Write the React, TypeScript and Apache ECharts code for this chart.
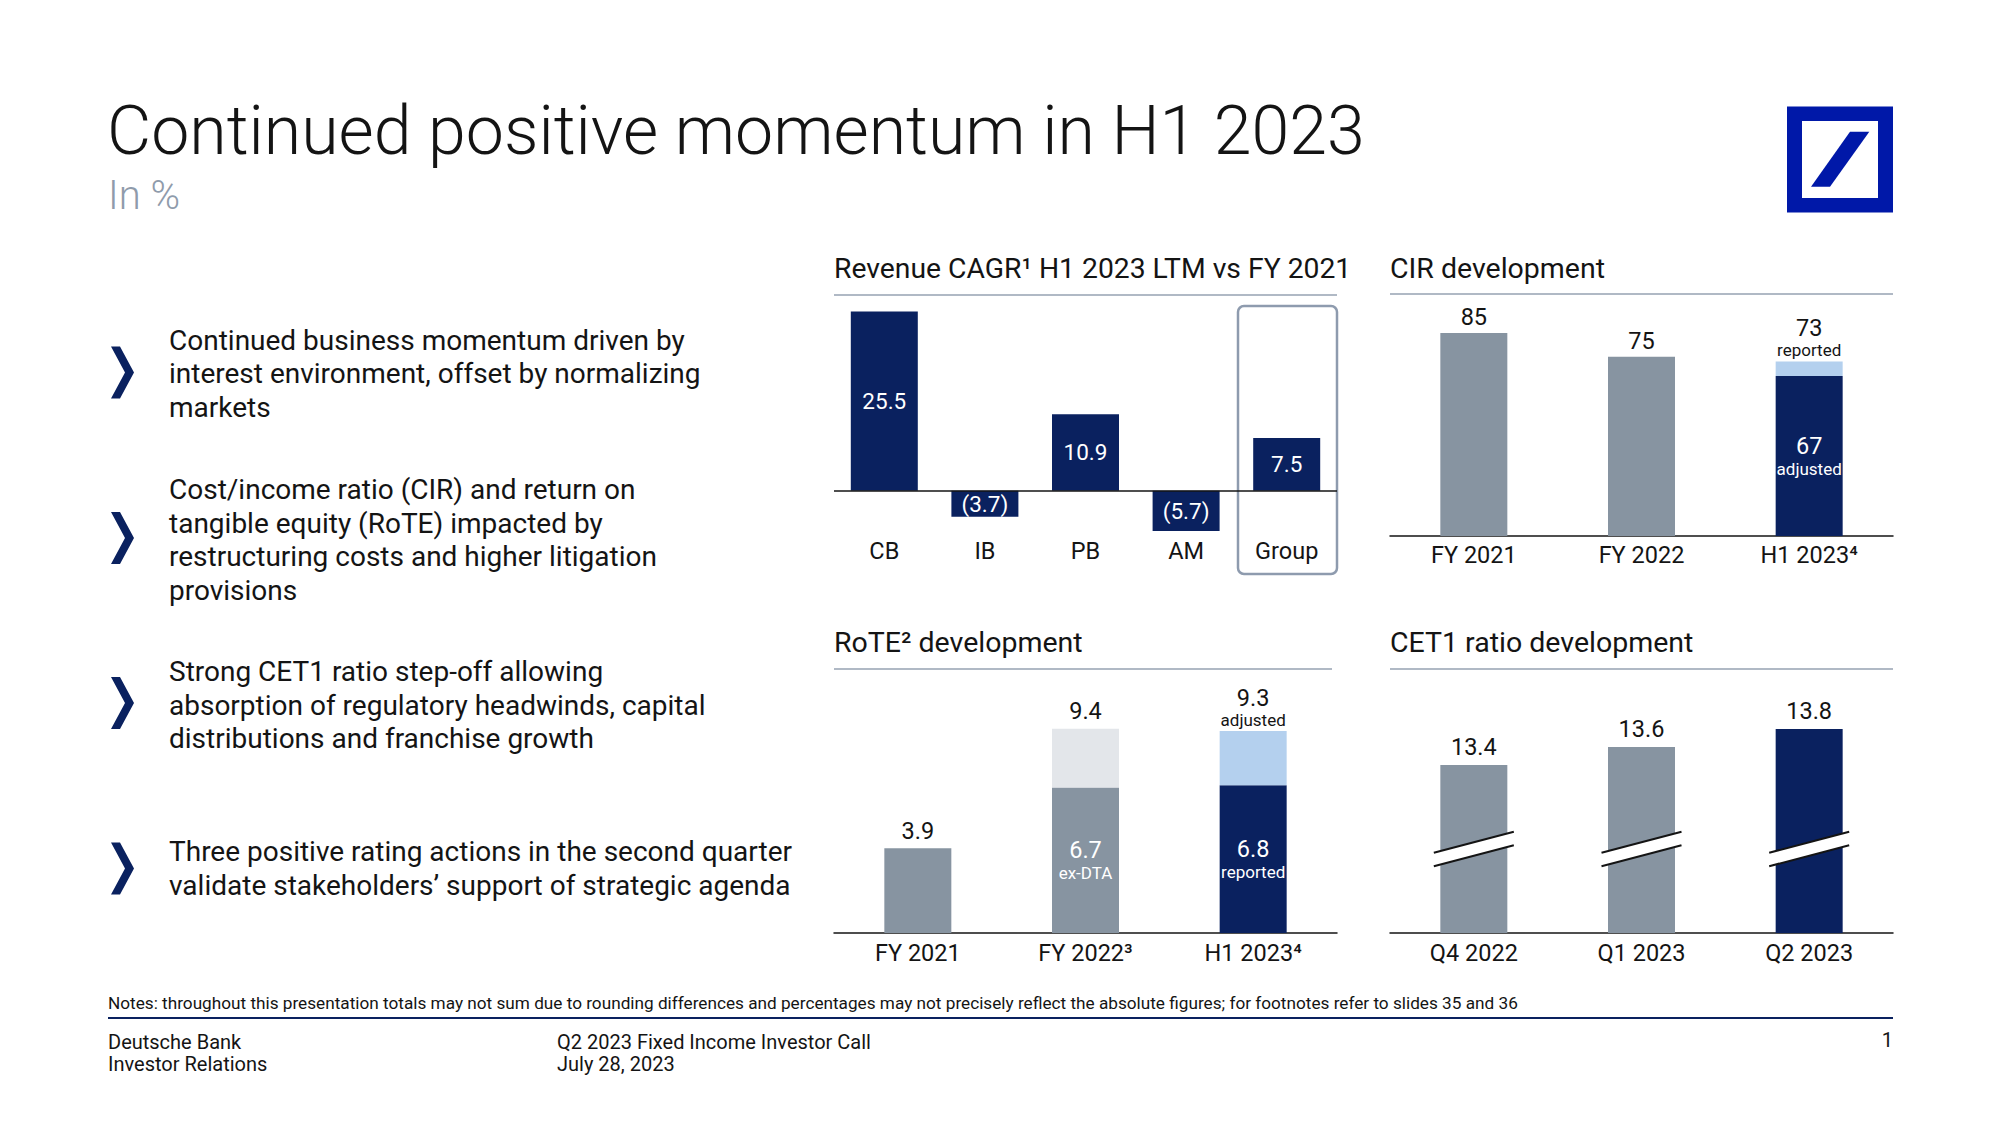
import React, { useEffect, useRef } from "react";
import * as echarts from "echarts";

// ---------- data ----------
const revCategories = ["CB", "IB", "PB", "AM", "Group"];
const revValues = [25.5, -3.7, 10.9, -5.7, 7.5];

const cirCategories = ["FY 2021", "FY 2022", "H1 2023⁴"];
const cirReported = [85, 75, 73];
const cirAdjusted: (number | null)[] = [null, null, 67];

const roteCategories = ["FY 2021", "FY 2022³", "H1 2023⁴"];
const roteTotal = [3.9, 9.4, 9.3];
const roteBase: (number | null)[] = [null, 6.7, 6.8];
const roteBaseNote = ["", "ex-DTA", "reported"];
const roteTotalNote = ["", "", "adjusted"];

const cet1Categories = ["Q4 2022", "Q1 2023", "Q2 2023"];
const cet1Values = [13.4, 13.6, 13.8];

const bulletTexts = [
  "Continued business momentum driven by\ninterest environment, offset by normalizing\nmarkets",
  "Cost/income ratio (CIR) and return on\ntangible equity (RoTE) impacted by\nrestructuring costs and higher litigation\nprovisions",
  "Strong CET1 ratio step-off allowing\nabsorption of regulatory headwinds, capital\ndistributions and franchise growth",
  "Three positive rating actions in the second quarter\nvalidate stakeholders’ support of strategic agenda",
];

// ---------- styles ----------
const NAVY = "#0A215F";
const GRAY = "#8794A1";
const LIGHT_GRAY = "#E3E6EA";
const LIGHT_BLUE = "#B4D0EE";
const RULE = "#96A2B2";
const INK = "#141414";
const LOGO = "#0018A8";
const FONT = "Roboto, 'Noto Sans', sans-serif";

const cirColors = [GRAY, GRAY, NAVY];
const roteBaseColors = [GRAY, GRAY, NAVY];
const roteTopColors = [LIGHT_GRAY, LIGHT_GRAY, LIGHT_BLUE];
const cet1Colors = [GRAY, GRAY, NAVY];

const CET1_MIN = 11.53;
const BAR_W = 67;

const richDark = {
  v: { fontSize: 23.5, lineHeight: 26, color: INK, fontFamily: FONT },
  s: { fontSize: 17, lineHeight: 18, color: INK, fontFamily: FONT },
};
const richLight = {
  v: { fontSize: 23.5, lineHeight: 26, color: "#fff", fontFamily: FONT },
  s: { fontSize: 17, lineHeight: 20, color: "#fff", fontFamily: FONT },
};

function txt(text: string, x: number, y: number, size: number, opts: any = {}) {
  return {
    type: "text",
    x,
    y,
    silent: true,
    style: {
      text,
      fill: opts.fill || INK,
      fontSize: size,
      fontFamily: FONT,
      fontWeight: opts.weight || "normal",
      lineHeight: opts.lineHeight,
      textAlign: opts.align || "left",
      textVerticalAlign: opts.valign || "middle",
      align: opts.align || "left",
      verticalAlign: opts.valign || "middle",
    },
  };
}

function rule(x1: number, x2: number, y: number, color = RULE, w = 1.5) {
  return {
    type: "line",
    silent: true,
    shape: { x1, y1: y, x2, y2: y },
    style: { stroke: color, lineWidth: w },
  };
}

function chevron(cy: number) {
  return {
    type: "polygon",
    silent: true,
    shape: {
      points: [
        [111, cy - 26],
        [120, cy - 26],
        [134, cy],
        [120, cy + 26],
        [111, cy + 26],
        [125, cy],
      ],
    },
    style: { fill: NAVY },
  };
}

function catAxis(gridIndex: number, data: string[], margin: number, showLine = true) {
  return {
    type: "category",
    gridIndex,
    data,
    position: "bottom",
    axisTick: { show: false },
    axisLine: { show: showLine, onZero: false, lineStyle: { color: INK, width: 1.5 } },
    axisLabel: { fontSize: 23.5, color: INK, fontFamily: FONT, margin },
    splitLine: { show: false },
  };
}

function valAxis(gridIndex: number, min: number, max: number) {
  return { type: "value", gridIndex, min, max, show: false, splitLine: { show: false } };
}

export default function App() {
  const ref = useRef<HTMLDivElement>(null);

  useEffect(() => {
    if (!ref.current) return;
    const chart = echarts.init(ref.current, undefined, { renderer: "svg" });

    const revSeries = {
      type: "bar",
      xAxisIndex: 0,
      yAxisIndex: 0,
      barWidth: BAR_W,
      data: revValues,
      itemStyle: { color: NAVY },
      label: {
        show: true,
        position: "inside",
        color: "#fff",
        fontSize: 22.5,
        fontFamily: FONT,
        formatter: (p: any) =>
          p.value < 0 ? `(${Math.abs(p.value).toFixed(1)})` : p.value.toFixed(1),
      },
      markLine: {
        silent: true,
        symbol: ["none", "none"],
        label: { show: false },
        lineStyle: { color: INK, width: 1.5, type: "solid" },
        data: [{ yAxis: 0 }],
      },
    };

    const cirBaseSeries = {
      type: "bar",
      xAxisIndex: 1,
      yAxisIndex: 1,
      stack: "cir",
      barWidth: BAR_W,
      data: cirReported.map((r, i) => {
        const adj = cirAdjusted[i];
        if (adj == null) {
          return {
            value: r,
            itemStyle: { color: cirColors[i] },
            label: { show: true, position: "top", distance: 3, formatter: `{v|${r}}`, rich: richDark },
          };
        }
        return {
          value: adj,
          itemStyle: { color: cirColors[i] },
          label: {
            show: true,
            position: "inside",
            formatter: `{v|${adj}}\n{s|adjusted}`,
            rich: richLight,
          },
        };
      }),
    };
    const cirTopSeries = {
      type: "bar",
      xAxisIndex: 1,
      yAxisIndex: 1,
      stack: "cir",
      barWidth: BAR_W,
      data: cirReported.map((r, i) => {
        const adj = cirAdjusted[i];
        if (adj == null) return "-";
        return {
          value: r - adj,
          itemStyle: { color: LIGHT_BLUE },
          label: {
            show: true,
            position: "top",
            distance: 3,
            formatter: `{v|${r}}\n{s|reported}`,
            rich: richDark,
          },
        };
      }),
    };

    const roteBaseSeries = {
      type: "bar",
      xAxisIndex: 2,
      yAxisIndex: 2,
      stack: "rote",
      barWidth: BAR_W,
      data: roteTotal.map((t, i) => {
        const b = roteBase[i];
        if (b == null) {
          return {
            value: t,
            itemStyle: { color: roteBaseColors[i] },
            label: { show: true, position: "top", distance: 4, formatter: `{v|${t.toFixed(1)}}`, rich: richDark },
          };
        }
        return {
          value: b,
          itemStyle: { color: roteBaseColors[i] },
          label: {
            show: true,
            position: "inside",
            formatter: `{v|${b.toFixed(1)}}\n{s|${roteBaseNote[i]}}`,
            rich: richLight,
          },
        };
      }),
    };
    const roteTopSeries = {
      type: "bar",
      xAxisIndex: 2,
      yAxisIndex: 2,
      stack: "rote",
      barWidth: BAR_W,
      data: roteTotal.map((t, i) => {
        const b = roteBase[i];
        if (b == null) return "-";
        const note = roteTotalNote[i];
        return {
          value: +(t - b).toFixed(2),
          itemStyle: { color: roteTopColors[i] },
          label: {
            show: true,
            position: "top",
            distance: note ? 2 : 5,
            formatter: note ? `{v|${t.toFixed(1)}}\n{s|${note}}` : `{v|${t.toFixed(1)}}`,
            rich: richDark,
          },
        };
      }),
    };

    const cet1Series = {
      type: "bar",
      xAxisIndex: 3,
      yAxisIndex: 3,
      barWidth: BAR_W,
      data: cet1Values.map((v, i) => ({ value: v, itemStyle: { color: cet1Colors[i] } })),
      label: {
        show: true,
        position: "top",
        distance: 5,
        formatter: (p: any) => `{v|${p.value.toFixed(1)}}`,
        rich: richDark,
      },
    };

    const cet1Breaks = {
      type: "custom",
      xAxisIndex: 3,
      yAxisIndex: 3,
      z: 10,
      silent: true,
      data: cet1Values.map((v, i) => [i, v]),
      encode: { x: 0, y: 1 },
      renderItem: (params: any, api: any) => {
        const base = api.coord([api.value(0), CET1_MIN]);
        const cx = base[0];
        const cy = base[1] - 84;
        const hw = 40;
        const dy = 10.5;
        const gap = 6.75;
        return {
          type: "group",
          children: [
            {
              type: "polygon",
              shape: {
                points: [
                  [cx - hw, cy - gap + dy],
                  [cx + hw, cy - gap - dy],
                  [cx + hw, cy + gap - dy],
                  [cx - hw, cy + gap + dy],
                ],
              },
              style: { fill: "#ffffff" },
            },
            {
              type: "line",
              shape: { x1: cx - hw, y1: cy - gap + dy, x2: cx + hw, y2: cy - gap - dy },
              style: { stroke: INK, lineWidth: 2 },
            },
            {
              type: "line",
              shape: { x1: cx - hw, y1: cy + gap + dy, x2: cx + hw, y2: cy + gap - dy },
              style: { stroke: INK, lineWidth: 2 },
            },
          ],
        };
      },
    };

    const bulletTops = [323.6, 472.8, 655, 835];
    const chevronCenters = [372.5, 538, 703, 868.6];

    const graphics: any[] = [
      // title
      txt("Continued positive momentum in H1 2023", 107, 131, 68, { weight: 300, lineHeight: 60 }),
      txt("In %", 108, 195, 40, { fill: "#8F9BAB", weight: 300, lineHeight: 36 }),
      // logo
      { type: "rect", silent: true, shape: { x: 1787, y: 106.5, width: 106, height: 106 }, style: { fill: LOGO } },
      { type: "rect", silent: true, shape: { x: 1802, y: 121, width: 76, height: 77 }, style: { fill: "#fff" } },
      {
        type: "polygon",
        silent: true,
        shape: { points: [[1811, 186.7], [1830, 186.7], [1869.3, 131.7], [1850, 131.7]] },
        style: { fill: LOGO },
      },
      // chart titles and rules
      txt("Revenue CAGR¹ H1 2023 LTM vs FY 2021", 834, 268, 28.3),
      rule(834, 1337, 295),
      txt("CIR development", 1390, 268, 28.5),
      rule(1390, 1893, 294),
      txt("RoTE² development", 834, 642, 28.5),
      rule(834, 1332, 669),
      txt("CET1 ratio development", 1390, 642, 28.5),
      rule(1390, 1893, 669),
      // group highlight box
      {
        type: "rect",
        silent: true,
        z: 1,
        shape: { x: 1238, y: 306, width: 99, height: 268, r: 6 },
        style: { fill: "none", stroke: "#8E9BAE", lineWidth: 2.5 },
      },
      // notes & footer
      txt(
        "Notes: throughout this presentation totals may not sum due to rounding differences and percentages may not precisely reflect the absolute figures; for footnotes refer to slides 35 and 36",
        108,
        1003,
        17.2
      ),
      rule(108, 1893, 1018, NAVY, 2),
      txt("Deutsche Bank", 108, 1042, 20),
      txt("Investor Relations", 108, 1064, 20),
      txt("Q2 2023 Fixed Income Investor Call", 557, 1042, 20),
      txt("July 28, 2023", 557, 1064, 20),
      txt("1", 1893, 1040, 20, { align: "right" }),
    ];

    bulletTexts.forEach((t, i) => {
      graphics.push(chevron(chevronCenters[i]));
      graphics.push(txt(t, 169, bulletTops[i], 28, { valign: "top", lineHeight: 33.5 }));
    });

    chart.setOption({
      animation: false,
      backgroundColor: "#ffffff",
      textStyle: { fontFamily: FONT },
      grid: [
        { left: 834, top: 308, width: 503, height: 225, outerBoundsMode: "none", containLabel: false },
        { left: 1390, top: 321, width: 503, height: 215, outerBoundsMode: "none", containLabel: false },
        { left: 834, top: 694, width: 503, height: 239, outerBoundsMode: "none", containLabel: false },
        { left: 1390, top: 693, width: 503, height: 240, outerBoundsMode: "none", containLabel: false },
      ],
      xAxis: [
        catAxis(0, revCategories, 5.5, false),
        catAxis(1, cirCategories, 6.5),
        catAxis(2, roteCategories, 7.5),
        catAxis(3, cet1Categories, 7.5),
      ],
      yAxis: [valAxis(0, -6, 26), valAxis(1, 0, 90), valAxis(2, 0, 11), valAxis(3, CET1_MIN, 14.2)],
      series: [revSeries, cirBaseSeries, cirTopSeries, roteBaseSeries, roteTopSeries, cet1Series, cet1Breaks],
      graphic: { elements: graphics },
    });

    return () => chart.dispose();
  }, []);

  return (
    <div
      ref={ref}
      style={{ position: "absolute", left: 0, top: 0, width: 2000, height: 1125, background: "#fff" }}
    />
  );
}
